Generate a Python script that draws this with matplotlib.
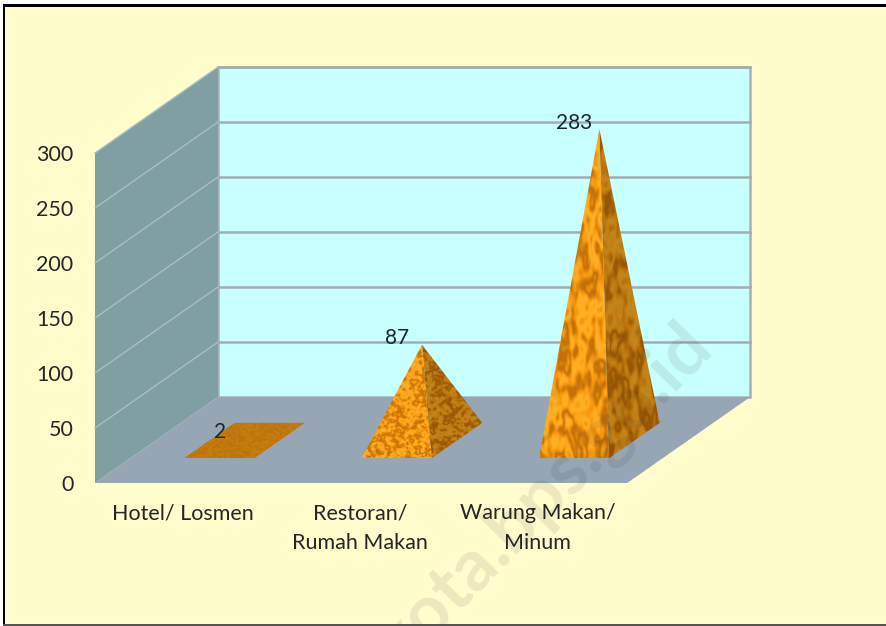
#!/usr/bin/env python

import numpy as np
import matplotlib
matplotlib.use('Agg')
import matplotlib.pyplot as plt
from matplotlib.colors import LinearSegmentedColormap
from matplotlib.patches import Polygon, Rectangle

categories = ['Hotel/ Losmen', 'Restoran/\nRumah Makan', 'Warung Makan/\nMinum']
values = [2, 87, 283]
y_ticks = [0, 50, 100, 150, 200, 250, 300]

W, H = 887, 626
# pixels of the chart box: front left corner, size of a category and a value unit
X0, Y0 = 95.0, 483.0
CAT_PX = 177.4
VAL_PX = 1.1
# the floor goes back by this much, in data units
DX = 123.0 / CAT_PX
DY = 86.0 / VAL_PX
# pyramid footprint
HALF_W = 0.198
D_FRONT = 0.29
D_BACK = 0.70

plt.rcParams['font.family'] = ['Lato', 'DejaVu Sans']

fig = plt.figure(figsize=(W / 100, H / 100), dpi=100, facecolor='white')
fig.add_artist(Rectangle((4 / W, 1 - 625 / H), (W - 4) / W, 619 / H, transform=fig.transFigure,
                         facecolor='#FFFDCC', edgecolor='none', zorder=-1))
ax = fig.add_axes([0, 0, 1, 1])
ax.set_xlim(-X0 / CAT_PX, (W - X0) / CAT_PX)
ax.set_ylim(-(H - Y0) / VAL_PX, Y0 / VAL_PX)
ax.axis('off')
ax.autoscale(False)


def proj(x, d, v):
    return x + d * DX, v + d * DY


cmap = LinearSegmentedColormap.from_list('wood', ['#A85C06', '#D57F08', '#F29410', '#FCA015', '#FFB52A'])
rng = np.random.default_rng(12)


def noise(w, h, sx, sy):
    n = rng.normal(size=(h, w))
    fy = np.fft.fftfreq(h)[:, None]
    fx = np.fft.fftfreq(w)[None, :]
    g = np.exp(-2 * np.pi ** 2 * ((fx * sx) ** 2 + (fy * sy) ** 2))
    a = np.real(np.fft.ifft2(np.fft.fft2(n) * g))
    return (a - a.mean()) / a.std()


def texture(w, h, sx, sy, contrast):
    # wavy noise, for the look of the pyramid surface only
    a = noise(w, h, sx, sy) + 0.45 * noise(w, h, sx * 0.5, sy * 0.5)
    return np.clip(0.55 + contrast * np.sin(1.3 * a), 0, 1)


def face(points, sx, sy, shade, contrast=0.4):
    pts = np.array(points)
    l, r = pts[:, 0].min(), pts[:, 0].max()
    b, t = pts[:, 1].min(), pts[:, 1].max()
    w = max(int((r - l) * CAT_PX) + 2, 4)
    h = max(int((t - b) * VAL_PX) + 2, 4)
    rgb = cmap(texture(w, h, sx, sy, contrast))[:, :, :3] * shade
    im = ax.imshow(rgb, extent=(l, r, b, t), aspect='auto', interpolation='bilinear', zorder=4)
    clip = Polygon(pts, closed=True, transform=ax.transData, facecolor='none', edgecolor='none')
    ax.add_patch(clip)
    im.set_clip_path(clip)


# walls and floor
top = y_ticks[-1]
n_cat = len(categories)
ax.fill(*zip(proj(0, 1, 0), proj(n_cat, 1, 0), proj(n_cat, 1, top), proj(0, 1, top)),
        facecolor='#C8FFFF', edgecolor='#A3B3B5', linewidth=1.8, zorder=1)
ax.fill(*zip(proj(0, 0, 0), proj(0, 1, 0), proj(0, 1, top), proj(0, 0, top)),
        facecolor='#7F9FA3', edgecolor='none', zorder=2)
ax.fill(*zip(proj(0, 0, 0), proj(0, 1, 0), proj(n_cat, 1, 0), proj(n_cat, 0, 0)),
        facecolor='#96A6B4', edgecolor='none', zorder=2)

# grid lines on the back and side wall
for t in y_ticks[1:]:
    ax.plot(*zip(proj(0, 1, t), proj(n_cat, 1, t)), color='#A3ADB0', linewidth=1.8, zorder=1.5)
    ax.plot(*zip(proj(0, 0, t), proj(0, 1, t)), color='#A6BFC2', linewidth=1.0, zorder=2.5)

# pyramids
grain = [(1.0, 0.8), (1.5, 1.4), (2.6, 6.0)]
for i, v in enumerate(values):
    c = i + 0.5
    fl = proj(c - HALF_W, D_FRONT, 0)
    fr = proj(c + HALF_W, D_FRONT, 0)
    br = proj(c + HALF_W, D_BACK, 0)
    bl = proj(c - HALF_W, D_BACK, 0)
    apex = proj(c, (D_FRONT + D_BACK) / 2, v)
    sx, sy = grain[i]
    if v < 10:
        face([fl, fr, br, bl], sx, sy, 0.8, 0.12)
    else:
        face([fl, fr, apex], sx, sy, 1.0)
        face([fr, br, apex], sx, sy, 0.76)
    ax.annotate(str(v), apex, xytext=(-18, 4.5), textcoords='offset points', ha='center', va='center',
                fontsize=15, color='#1C2630', zorder=6)

# axis labels
for t in y_ticks:
    ax.annotate(str(t), (0, t), xytext=(-15.5, -1.3), textcoords='offset points', ha='right', va='center',
                fontsize=15.5, color='#262626', zorder=6)
for i, name in enumerate(categories):
    ax.annotate(name, (i + 0.5, 0), xytext=(-0.7, -14.5), textcoords='offset points', ha='center', va='top',
                fontsize=15.5, color='#262626', linespacing=1.6, zorder=6)

# watermark
fig.text(543 / W, 1 - 494 / H, 'kota.bps.go.id', rotation=45.5, rotation_mode='anchor', ha='center', va='center',
         fontsize=52, fontweight='bold', color='#202020', alpha=0.09, zorder=7)

# picture border
fig.add_artist(Rectangle((3 / W, 1 - 7 / H), (W - 3) / W, 2.5 / H, transform=fig.transFigure, facecolor='black', zorder=8))
fig.add_artist(Rectangle((3 / W, 1 - 626 / H), 2.5 / W, 621 / H, transform=fig.transFigure, facecolor='black', zorder=8))
fig.add_artist(Rectangle((3 / W, 1 - 625.5 / H), (W - 3) / W, 1.2 / H, transform=fig.transFigure, facecolor='#555555', zorder=8))

plt.savefig('out.png', dpi=100)
plt.clf()
